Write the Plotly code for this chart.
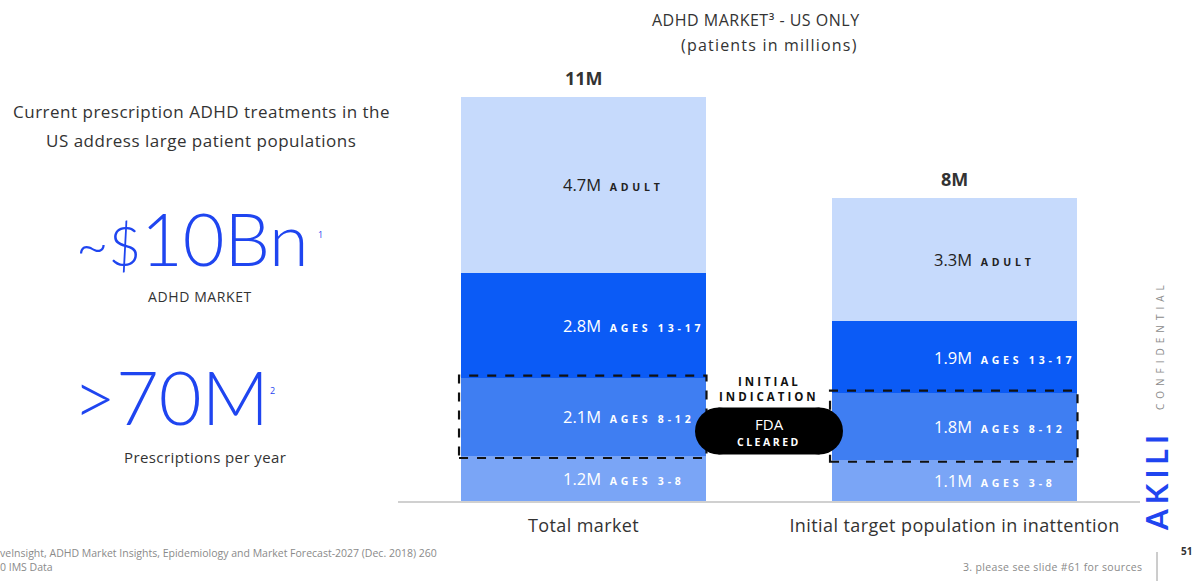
import plotly.graph_objects as go

# ---- data (patients in millions) ----
categories = ["Total market", "Initial target population in inattention"]
segment_names = ["AGES 3-8", "AGES 8-12", "AGES 13-17", "ADULT"]
total_market = [1.2, 2.1, 2.8, 4.7]
target_population = [1.1, 1.8, 1.9, 3.3]
total_labels = ["11M", "8M"]
segment_colors = ["#7aa5f6", "#3f7ef2", "#0b5bf6", "#c6dafc"]
label_colors = ["white", "white", "white", "#222222"]

W, H = 1194, 581
BLUE = "#1f45f0"
FONT = "Open Sans"
THIN = "Lato"


def px(x):
    return x / W


def py(y):
    return 1 - y / H


def spaced(text, ls):
    return f"<span style='letter-spacing:{ls}px'>{text}</span>"


series = [total_market, target_population]
xpos = [0, 1]
BAR_W = 0.663

fig = go.Figure()
for i, name in enumerate(segment_names):
    fig.add_trace(go.Bar(
        x=xpos,
        y=[s[i] for s in series],
        width=BAR_W,
        name=name,
        marker=dict(color=segment_colors[i], line=dict(width=0)),
        hoverinfo="skip",
        showlegend=False,
    ))

annotations = []
shapes = []

# segment labels, placed at the middle of each stacked segment
for b, vals in enumerate(series):
    base = 0.0
    for i, v in enumerate(vals):
        mid = base + v / 2
        base += v
        annotations.append(dict(
            x=xpos[b] - 0.06, y=mid, xref="x", yref="y",
            xanchor="left", yanchor="middle", showarrow=False,
            text=(f"{v:.1f}M&nbsp;&nbsp;<b><span style='font-size:10.5px;letter-spacing:3.8px'>"
                  f"{segment_names[i]}</span></b>"),
            font=dict(family=FONT, size=16.5, color=label_colors[i]),
        ))
    # total above the bar
    annotations.append(dict(
        x=xpos[b], y=sum(vals), xref="x", yref="y",
        xanchor="center", yanchor="bottom", yshift=5, showarrow=False,
        text=f"<b>{total_labels[b]}</b>",
        font=dict(family=FONT, size=18, color="#333333"),
    ))
    # dashed outline around the ages 8-12 segment
    shapes.append(dict(
        type="rect", xref="x", yref="y",
        x0=xpos[b] - BAR_W / 2 - 0.004, x1=xpos[b] + BAR_W / 2,
        y0=vals[0] - 0.05, y1=vals[0] + vals[1] + 0.05,
        line=dict(color="#111111", width=2.2, dash="dash"),
        fillcolor="rgba(0,0,0,0)", layer="above",
    ))

# "FDA CLEARED" pill between the bars
cx, cy, pw, ph = 769, 431, 148, 47
r = ph / 2
shapes.append(dict(type="rect", xref="paper", yref="paper",
                   x0=px(cx - pw / 2 + r), x1=px(cx + pw / 2 - r),
                   y0=py(cy + r), y1=py(cy - r),
                   fillcolor="black", line=dict(width=0), layer="above"))
for ex in (cx - pw / 2 + r, cx + pw / 2 - r):
    shapes.append(dict(type="circle", xref="paper", yref="paper",
                       x0=px(ex - r), x1=px(ex + r),
                       y0=py(cy + r), y1=py(cy - r),
                       fillcolor="black", line=dict(width=0), layer="above"))


def note(x, y, text, size, color="#333333", anchor="center", family=FONT,
         weight="normal", **kw):
    annotations.append(dict(x=px(x), y=py(y), xref="paper", yref="paper",
                            xanchor=anchor, yanchor="middle", showarrow=False,
                            text=text,
                            font=dict(family=family, size=size, color=color,
                                      weight=weight),
                            **kw))


note(769, 381, "<b>" + spaced("INITIAL", 3) + "</b>", 11.5, "#111111")
note(769, 396, "<b>" + spaced("INDICATION", 3) + "</b>", 11.5, "#111111")
note(769, 424, "FDA", 15, "white")
note(769, 442, "<b>" + spaced("CLEARED", 2.5) + "</b>", 10.5, "white")

# chart title
note(756, 20, spaced("ADHD MARKET³ - US ONLY", 0.5), 16)
note(769, 45, spaced("(patients in millions)", 1.2), 16)

# left-hand summary text
note(201, 112, spaced("Current prescription ADHD treatments in the", 0.5), 17)
note(201, 141, spaced("US address large patient populations", 0.5), 17)
note(192, 238, "<span style='font-size:56px'>~$</span>10Bn", 72, BLUE,
     family=THIN, weight=300)
note(320, 235, "1", 9, BLUE)
note(200, 296, spaced("ADHD MARKET", 0.6), 14)
note(171, 396, "&gt;70M", 74, BLUE, family=THIN, weight=300)
note(272, 390, "2", 9, BLUE)
note(205, 457, spaced("Prescriptions per year", 0.4), 15)

# footer
note(-2, 553, "veInsight, ADHD Market Insights, Epidemiology and Market Forecast-2027 (Dec. 2018) 260",
     10.5, "#8a8a8a", anchor="left")
note(-2, 567, "0 IMS Data", 10.5, "#8a8a8a", anchor="left")
note(1144, 567, spaced("3. please see slide #61 for sources", 0.35), 10.5, "#8a8a8a", anchor="right")
note(1186, 551, "<b>51</b>", 10, "#333333")
shapes.append(dict(type="line", xref="paper", yref="paper",
                   x0=px(1157), x1=px(1157), y0=py(552), y1=py(581),
                   line=dict(color="#9a9a9a", width=1)))

# vertical brand marks on the right edge
note(1160, 345, spaced("CONFIDENTIAL", 5), 10, "#8c8c8c", textangle=-90)
note(1156, 481, "<b>" + spaced("AKILI", 5) + "</b>", 30, BLUE,
     family=THIN, weight=900, textangle=-90)

fig.update_layout(
    width=W, height=H,
    margin=dict(l=0, r=0, t=0, b=0),
    paper_bgcolor="white", plot_bgcolor="white",
    barmode="stack",
    xaxis=dict(domain=[px(398), px(1140)], range=[-0.5, 1.5],
               tickvals=xpos, ticktext=[spaced(c, 0.4) for c in categories],
               tickfont=dict(family=FONT, size=18, color="#333333"),
               ticks="", ticklabelstandoff=8,
               showgrid=False, zeroline=False,
               showline=True, linecolor="#d0d0d0", linewidth=1.5),
    yaxis=dict(domain=[py(501), py(52.2)], range=[0, 12],
               visible=False, showgrid=False, zeroline=False),
    annotations=annotations,
    shapes=shapes,
    font=dict(family=FONT),
)

fig.write_html("out.html")
